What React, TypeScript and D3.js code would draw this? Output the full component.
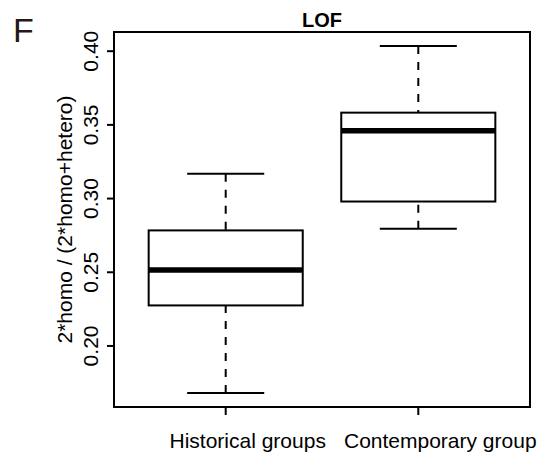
import React from "react";
import * as d3 from "d3";

const categories = ["Historical groups", "Contemporary group"];
const lowerWhisker = [0.168, 0.2795];
const q1 = [0.2275, 0.298];
const median = [0.2515, 0.346];
const q3 = [0.2784, 0.3583];
const upperWhisker = [0.3169, 0.4036];
const yTicks = [0.2, 0.25, 0.3, 0.35, 0.4];
const title = "LOF";
const yTitle = "2*homo / (2*homo+hetero)";
const panelLabel = "F";

const W = 552;
const H = 454;
const frame = { left: 114, right: 530, top: 32, bottom: 407 };
const font = "'Liberation Sans', Arial, sans-serif";

export default function App() {
  const lo = d3.min(lowerWhisker) as number;
  const hi = d3.max(upperWhisker) as number;
  const pad = (hi - lo) * 0.04;
  const y = d3.scaleLinear().domain([lo - pad, hi + pad]).range([frame.bottom, frame.top]);
  const n = categories.length;
  const xpad = (n + 0.5 - 0.5) * 0.04;
  const x = d3.scaleLinear().domain([0.5 - xpad, n + 0.5 + xpad]).range([frame.left, frame.right]);
  const bw = x(0.4) - x(0);
  const cw = x(0.2) - x(0);
  const sw = 2;

  return (
    <svg width={W} height={H} style={{ position: "absolute", left: 0, top: 0, background: "#fff" }} fontFamily={font}>
      <rect x={0} y={0} width={W} height={H} fill="#fff" />
      <text x={13} y={42} fontSize={34} fill="#231815">{panelLabel}</text>
      <text x={(frame.left + frame.right) / 2} y={27} fontSize={20} fontWeight="bold" textAnchor="middle">{title}</text>
      {categories.map((c, i) => {
        const cx = x(i + 1);
        return (
          <g key={c}>
            <line x1={cx} x2={cx} y1={y(upperWhisker[i])} y2={y(q3[i])} stroke="#000" strokeWidth={sw} strokeDasharray="8,8" />
            <line x1={cx} x2={cx} y1={y(lowerWhisker[i])} y2={y(q1[i])} stroke="#000" strokeWidth={sw} strokeDasharray="8,8" />
            <line x1={cx - cw} x2={cx + cw} y1={y(upperWhisker[i])} y2={y(upperWhisker[i])} stroke="#000" strokeWidth={sw} />
            <line x1={cx - cw} x2={cx + cw} y1={y(lowerWhisker[i])} y2={y(lowerWhisker[i])} stroke="#000" strokeWidth={sw} />
            <rect x={cx - bw} y={y(q3[i])} width={2 * bw} height={y(q1[i]) - y(q3[i])} fill="#fff" stroke="#000" strokeWidth={sw} />
            <line x1={cx - bw} x2={cx + bw} y1={y(median[i])} y2={y(median[i])} stroke="#000" strokeWidth={5.5} />
            <line x1={cx} x2={cx} y1={frame.bottom} y2={frame.bottom + 8} stroke="#000" strokeWidth={sw} />
            <text x={cx + 22} y={448} fontSize={21} textAnchor="middle">{c}</text>
          </g>
        );
      })}
      <rect x={frame.left} y={frame.top} width={frame.right - frame.left} height={frame.bottom - frame.top} fill="none" stroke="#000" strokeWidth={sw} />
      {yTicks.map((t) => (
        <g key={t}>
          <line x1={frame.left - 7} x2={frame.left} y1={y(t)} y2={y(t)} stroke="#000" strokeWidth={sw} />
          <text transform={`translate(98,${y(t)}) rotate(-90)`} fontSize={21} textAnchor="middle">{d3.format(".2f")(t)}</text>
        </g>
      ))}
      <text transform={`translate(72,${(frame.top + frame.bottom) / 2}) rotate(-90)`} fontSize={21} textAnchor="middle">{yTitle}</text>
    </svg>
  );
}
